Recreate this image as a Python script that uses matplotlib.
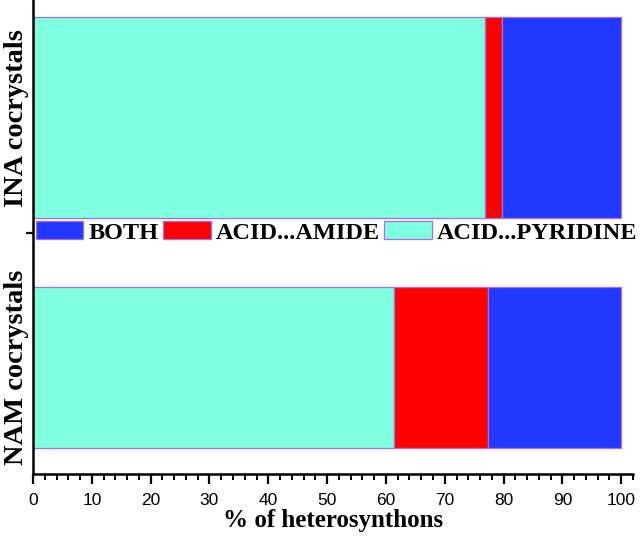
import matplotlib
matplotlib.use("Agg")
import matplotlib.pyplot as plt
from matplotlib.patches import Patch
from matplotlib.ticker import MultipleLocator

# ----------------------
# Data
# ----------------------
categories = ['NAM cocrystals', 'INA cocrystals']
acid_pyridine = [61.3, 76.8]
acid_amide = [16.0, 3.0]
both = [22.7, 20.2]

series_labels = ['ACID...PYRIDINE', 'ACID...AMIDE', 'BOTH']
series_colors = ['#7FFFE0', '#FF0000', '#2038FF']
edge_color = '#A86CEB'

# ----------------------
# Layout
# ----------------------
bar_pos = [0, 1]
bar_heights = [0.647, 0.807]

serif = ['Liberation Serif', 'DejaVu Serif']
sans = ['Liberation Sans', 'DejaVu Sans']

fig = plt.figure(figsize=(6.4, 5.36), dpi=100)
ax = fig.add_axes([33 / 640, 1 - 474 / 536, 600 / 640, 474 / 536])

left = [0, 0]
handles = []
for vals, lab, col in zip([acid_pyridine, acid_amide, both], series_labels, series_colors):
    ax.barh(bar_pos, vals, height=bar_heights, left=left, color=col,
            edgecolor=edge_color, linewidth=0.9, label=lab)
    handles.append(Patch(facecolor=col, edgecolor=edge_color, linewidth=0.9, label=lab))
    left = [a + b for a, b in zip(left, vals)]

ax.set_xlim(0, 102)
ax.set_ylim(-0.428, 1.472)

# spines
for s in ['top', 'right']:
    ax.spines[s].set_visible(False)
for s in ['left', 'bottom']:
    ax.spines[s].set_linewidth(1.8)

# x ticks
ax.xaxis.set_major_locator(MultipleLocator(10))
ax.xaxis.set_minor_locator(MultipleLocator(2))
ax.tick_params(axis='x', which='major', length=7.5, width=1.6, direction='out', pad=6)
ax.tick_params(axis='x', which='minor', length=4, width=1.4, direction='out')
for t in ax.get_xticklabels():
    t.set_family(sans)
    t.set_fontsize(12.5)

# y ticks: category names as rotated labels, one small tick between groups
ax.set_yticks(bar_pos)
ax.set_yticklabels(categories, rotation=90, va='center', ha='center',
                   fontsize=20.5, fontweight='bold', family=serif)
ax.tick_params(axis='y', which='major', length=0, pad=12)
ax.set_yticks([0.54], minor=True)
ax.tick_params(axis='y', which='minor', length=5, width=1.6, direction='out')

ax.set_xlabel('% of heterosynthons', fontsize=18, fontweight='bold', family=serif, labelpad=1)

leg = ax.legend(handles=handles[::-1], loc='center left', bbox_to_anchor=(0.005, 0.5095),
                ncol=3, frameon=False, borderpad=0, borderaxespad=0,
                handlelength=1.95, handleheight=0.78, handletextpad=0.22,
                columnspacing=0.18, prop={'family': serif, 'weight': 'bold', 'size': 17.5})

fig.savefig('out.png', dpi=100)
